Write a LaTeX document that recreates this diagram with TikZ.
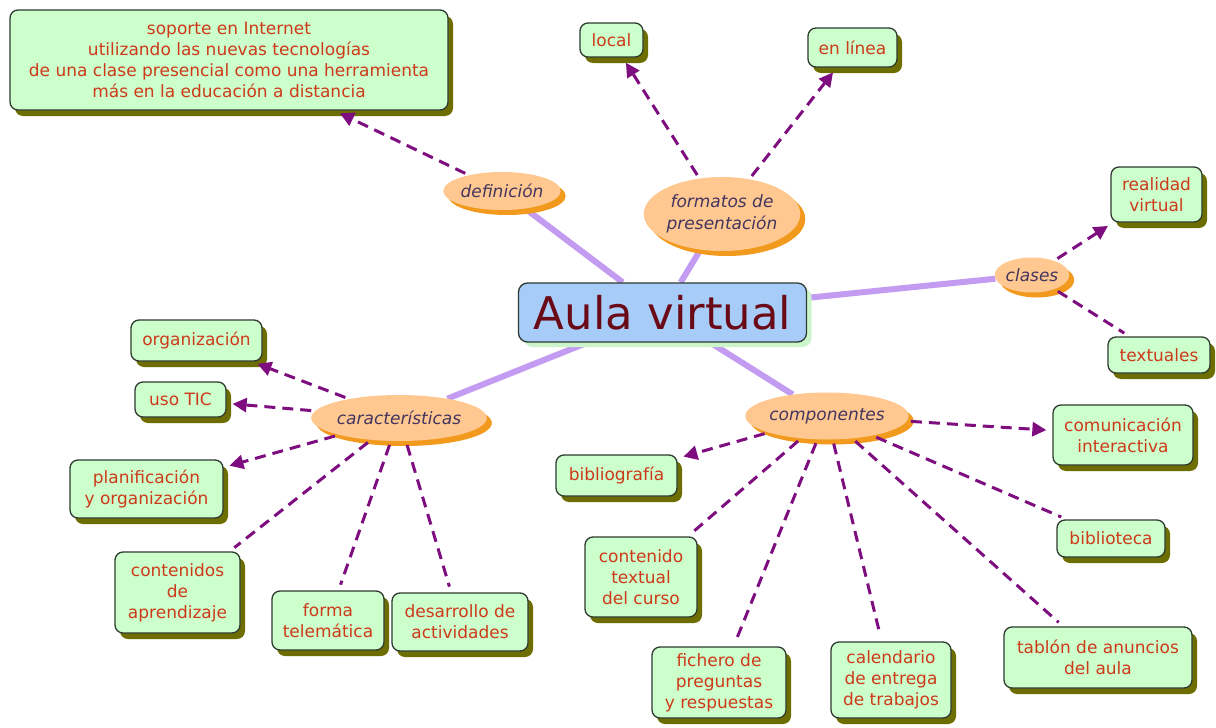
\documentclass[tikz,border=0pt]{standalone}
\usepackage{fontspec}
\setmainfont{DejaVu Sans}
\usetikzlibrary{shapes.geometric,shadows,arrows.meta}
\definecolor{boxfill}{HTML}{CCFFCC}
\definecolor{boxline}{HTML}{2E3A30}
\definecolor{boxtext}{HTML}{CC3A1A}
\definecolor{olivesh}{HTML}{6E6E00}
\definecolor{ovalfill}{HTML}{FFC890}
\definecolor{ovalsh}{HTML}{F29A1E}
\definecolor{ovaltext}{HTML}{43355F}
\definecolor{lav}{HTML}{C39CF2}
\definecolor{purp}{HTML}{7E0E80}
\definecolor{mainfill}{HTML}{A8CCF8}
\definecolor{maintext}{HTML}{6A0A16}
\definecolor{mainsh}{HTML}{CCF5CC}
\pgfdeclarelayer{bg}
\pgfdeclarelayer{paper}
\pgfsetlayers{paper,bg,main}
\tikzset{
  box/.style={draw=boxline, line width=1.3pt, fill=boxfill, rounded corners=8pt,
    text=boxtext, align=center, font=\fontsize{17}{21}\selectfont, inner sep=2pt,
    drop shadow={shadow xshift=5pt, shadow yshift=-6pt, fill=olivesh, opacity=1}},
  oval/.style={ellipse, fill=ovalfill, text=ovaltext, align=center,
    font=\fontsize{17}{22}\selectfont\itshape, inner sep=0pt,
    drop shadow={shadow xshift=5pt, shadow yshift=-5pt, fill=ovalsh, opacity=1}},
  link/.style={line width=6pt, draw=lav},
  dline/.style={line width=3pt, draw=purp, dash pattern=on 11pt off 7pt,
    shorten <=4pt, shorten >=6pt},
  arr/.style={-{Triangle[length=14pt,width=14pt]}}
}
\begin{document}
\begin{tikzpicture}[x=1pt,y=-1pt]
\begin{pgfonlayer}{paper}
\fill[white] (0,0) rectangle (1216,728);
\end{pgfonlayer}
\useasboundingbox (0,0) rectangle (1216,728);
% central
\node[draw=boxline, line width=1.3pt, fill=mainfill, rounded corners=9pt, text=maintext,
  font=\fontsize{45}{50}\selectfont, minimum width=288pt, minimum height=59pt, inner sep=0pt,
  drop shadow={shadow xshift=5pt, shadow yshift=-5pt, fill=mainsh, opacity=1}]
  (aula) at (662.5,312.5) {Aula virtual};
% ovals
\node[oval, minimum width=95pt, minimum height=38pt] (def) at (502,191) {definición};
\node[oval, minimum width=140pt, minimum height=74pt] (form) at (722,214) {formatos de\\presentación};
\node[oval, minimum width=69pt, minimum height=35pt] (clas) at (1032,275) {clases};
\node[oval, minimum width=144pt, minimum height=46pt] (car) at (399,418) {características};
\node[oval, minimum width=131pt, minimum height=47pt] (comp) at (827,416) {componentes};
% boxes
\node[box, minimum width=438pt, minimum height=100pt] (defbox) at (229,60)
  {soporte en Internet\\utilizando las nuevas tecnologías\\de una clase presencial como una herramienta\\más en la educación a distancia};
\node[box, minimum width=63pt, minimum height=34pt] (local) at (611.5,40) {local};
\node[box, minimum width=89pt, minimum height=39pt] (linea) at (852.5,47.5) {en línea};
\node[box, minimum width=91pt, minimum height=55pt] (real) at (1156.5,194.5) {realidad\\virtual};
\node[box, minimum width=102pt, minimum height=36pt] (text) at (1159,355) {textuales};
\node[box, minimum width=131pt, minimum height=41pt] (org) at (196.5,340.5) {organización};
\node[box, minimum width=91pt, minimum height=35pt] (tic) at (180.5,399.5) {uso TIC};
\node[box, minimum width=153pt, minimum height=58pt] (plan) at (146.5,489) {planificación\\y organización};
\node[box, minimum width=125pt, minimum height=81pt] (cont) at (177.5,592.5) {contenidos\\de\\aprendizaje};
\node[box, minimum width=112pt, minimum height=59pt] (forma) at (328,620.5) {forma\\telemática};
\node[box, minimum width=136pt, minimum height=58pt] (desa) at (460,622) {desarrollo de\\actividades};
\node[box, minimum width=121pt, minimum height=41pt] (bibl) at (616.5,475.5) {bibliografía};
\node[box, minimum width=112pt, minimum height=80pt] (ctex) at (641,577) {contenido\\textual\\del curso};
\node[box, minimum width=134pt, minimum height=71pt] (fich) at (719,682.5) {fichero de\\preguntas\\y respuestas};
\node[box, minimum width=120pt, minimum height=76pt] (cal) at (891,680) {calendario\\de entrega\\de trabajos};
\node[box, minimum width=188pt, minimum height=61pt] (tab) at (1098,657.5) {tablón de anuncios\\del aula};
\node[box, minimum width=140pt, minimum height=60pt] (comu) at (1123,435) {comunicación\\interactiva};
\node[box, minimum width=108pt, minimum height=37pt] (bib) at (1111,538.5) {biblioteca};
% connectors
\begin{pgfonlayer}{bg}
\draw[link] (aula) -- (def);
\draw[link] (aula) -- (form);
\draw[link] (aula) -- (clas);
\draw[link] (aula) -- (car);
\draw[link] (aula) -- (comp);
\end{pgfonlayer}
\draw[dline,arr] (def) -- (defbox);
\draw[dline,arr] (form) -- (local);
\draw[dline,arr] (form) -- (linea);
\draw[dline,arr] (clas) -- (real);
\draw[dline] (clas) -- (text);
\draw[dline,arr] (car) -- (org);
\draw[dline,arr] (car) -- (tic);
\draw[dline,arr] (car) -- (plan);
\draw[dline] (car) -- (cont);
\draw[dline] (car) -- (forma);
\draw[dline] (car) -- (desa);
\draw[dline,arr] (comp) -- (bibl);
\draw[dline,arr] (comp) -- (comu);
\draw[dline] (comp) -- (ctex);
\draw[dline] (comp) -- (fich);
\draw[dline] (comp) -- (cal);
\draw[dline] (comp) -- (tab);
\draw[dline] (comp) -- (bib);
\end{tikzpicture}
\end{document}
